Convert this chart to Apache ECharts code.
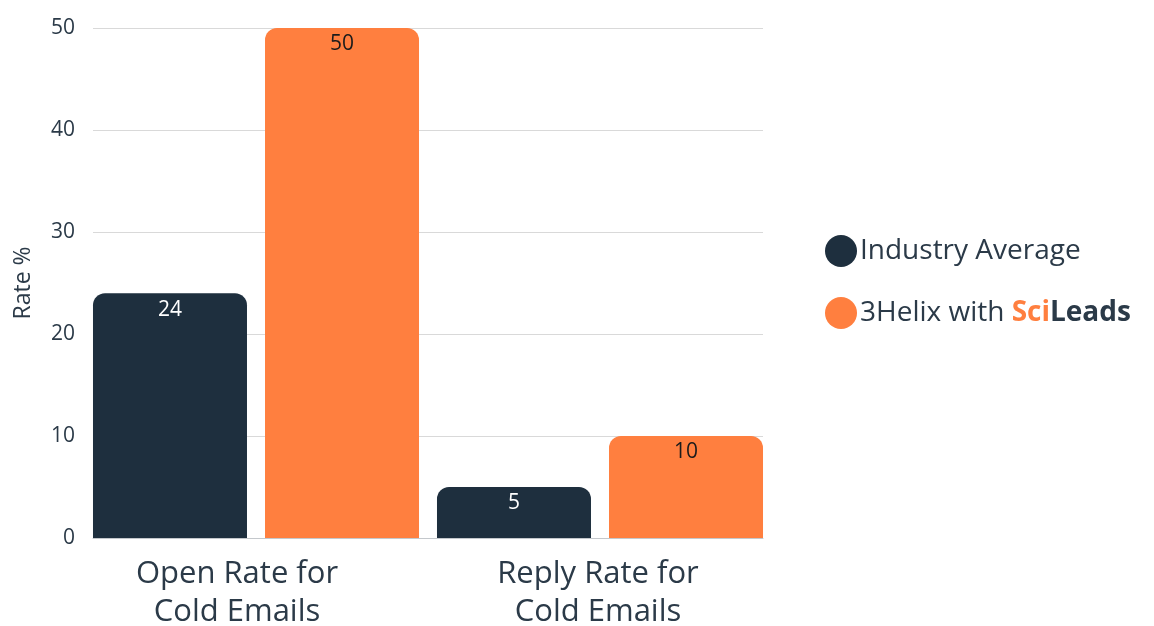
<!DOCTYPE html>
<html>
<head>
<meta charset="utf-8">
<script src="https://cdn.jsdelivr.net/npm/echarts@6/dist/echarts.min.js"></script>
<style>html,body{margin:0;padding:0;background:#fff;}#c{width:1154px;height:626px;}</style>
</head>
<body>
<div id="c"></div>
<script>
const categories = ['Open Rate for\nCold Emails', 'Reply Rate for\nCold Emails'];
const seriesNames = ['Industry Average', '3Helix with SciLeads'];
const industryAverage = [24, 5];
const sciLeads = [50, 10];
const yTicks = [0, 10, 20, 30, 40, 50];

const FONT = '"Open Sans", sans-serif';
const DARK = '#1e2f3e';
const ORANGE = '#ff7f3f';
const TEXT = '#2b3a48';

const chart = echarts.init(document.getElementById('c'));
chart.setOption({
  backgroundColor: '#fff',
  animation: false,
  textStyle: { fontFamily: FONT },
  grid: [
    { left: 93, right: 391, top: 28, bottom: 88, outerBoundsMode: 'none', containLabel: false },
    { left: 84, right: 382, top: 28, bottom: 88, outerBoundsMode: 'none', containLabel: false }
  ],
  legend: {
    orient: 'vertical',
    left: 820,
    top: 230,
    icon: 'circle',
    itemWidth: 32,
    itemHeight: 32,
    itemGap: 30,
    data: seriesNames,
    formatter: function (name) {
      if (name === seriesNames[1]) return '3Helix with {sci|Sci}{leads|Leads}';
      return name;
    },
    textStyle: {
      fontFamily: FONT,
      fontSize: 28,
      color: TEXT,
      padding: [0, 0, 0, -2],
      rich: {
        sci: { fontFamily: FONT, fontSize: 28, color: ORANGE, fontWeight: 'bold' },
        leads: { fontFamily: FONT, fontSize: 28, color: TEXT, fontWeight: 'bold' }
      }
    }
  },
  xAxis: [
    {
      type: 'category', gridIndex: 0, data: categories,
      axisLine: { show: true, lineStyle: { color: '#c4c8cc', width: 1 } },
      axisTick: { show: false },
      axisLabel: { show: false }
    },
    {
      type: 'category', gridIndex: 1, data: categories,
      axisLine: { show: false },
      axisTick: { show: false },
      axisLabel: {
        fontFamily: FONT, fontSize: 31, color: TEXT, lineHeight: 38, margin: 17,
        formatter: function (value, index) {
          const key = index === 0 ? 'a' : 'b';
          return value.split('\n').map(function (s) { return '{' + key + '|' + s + '}'; }).join('\n');
        },
        rich: {
          a: { fontFamily: FONT, fontSize: 31, color: TEXT, lineHeight: 38, padding: [0, 38, 0, 0] },
          b: { fontFamily: FONT, fontSize: 31, color: TEXT, lineHeight: 38, padding: [0, 4, 0, 0] }
        }
      }
    }
  ],
  yAxis: [
    {
      type: 'value', gridIndex: 0, min: 0, max: 50, interval: 10,
      name: 'Rate %', nameLocation: 'middle', nameGap: 58, nameRotate: 90,
      nameTextStyle: { fontFamily: FONT, fontSize: 23, color: TEXT },
      axisLine: { show: false }, axisTick: { show: false },
      axisLabel: {
        fontFamily: FONT, fontSize: 21, color: TEXT, margin: 18,
        formatter: function (v) { return yTicks.indexOf(v) >= 0 ? String(v) : ''; }
      },
      splitLine: { show: true, lineStyle: { color: '#d9d9d9', width: 1 } }
    },
    {
      type: 'value', gridIndex: 1, min: 0, max: 50, interval: 10,
      show: false, splitLine: { show: false }
    }
  ],
  series: [
    {
      name: seriesNames[0], type: 'bar', xAxisIndex: 1, yAxisIndex: 1,
      data: industryAverage, barWidth: 154, barGap: '11.7%',
      itemStyle: { color: DARK, borderRadius: [12, 12, 0, 0] },
      label: { show: true, position: 'insideTop', distance: 6, fontFamily: FONT, fontSize: 21, color: '#ffffff' }
    },
    {
      name: seriesNames[1], type: 'bar', xAxisIndex: 1, yAxisIndex: 1,
      data: sciLeads, barWidth: 154, barGap: '11.7%',
      itemStyle: { color: ORANGE, borderRadius: [12, 12, 0, 0] },
      label: { show: true, position: 'insideTop', distance: 6, fontFamily: FONT, fontSize: 21, color: '#1b1b1b' }
    }
  ]
});
</script>
</body>
</html>
